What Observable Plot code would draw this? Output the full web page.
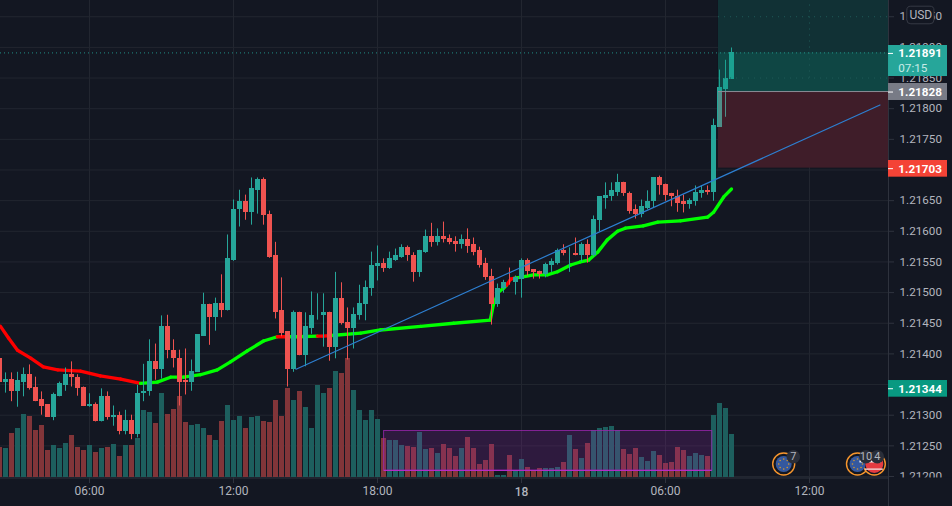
<!DOCTYPE html>
<html><head><meta charset="utf-8">
<style>html,body{margin:0;padding:0;background:#131722;overflow:hidden}</style>
<script src="https://cdn.jsdelivr.net/npm/d3@7"></script>
<script src="https://cdn.jsdelivr.net/npm/@observablehq/plot@0.6"></script>
</head><body><div id="chart"></div>
<script>
const open=[1.21393,1.21354,1.21359,1.21338,1.21354,1.21367,1.21346,1.21325,1.21317,1.21297,1.21331,1.21349,1.21367,1.21362,1.21346,1.21315,1.21318,1.21289,1.21330,1.21297,1.21300,1.21273,1.21292,1.21269,1.21336,1.21338,1.21387,1.21374,1.21444,1.21406,1.21393,1.21356,1.21354,1.21370,1.21429,1.21480,1.21459,1.21483,1.21470,1.21553,1.21635,1.21648,1.21630,1.21667,1.21684,1.21627,1.21560,1.21470,1.21436,1.21374,1.21468,1.21397,1.21442,1.21462,1.21462,1.21467,1.21411,1.21491,1.21452,1.21442,1.21463,1.21481,1.21507,1.21543,1.21547,1.21540,1.21553,1.21558,1.21573,1.21561,1.21532,1.21566,1.21591,1.21581,1.21591,1.21589,1.21584,1.21578,1.21587,1.21578,1.21568,1.21547,1.21527,1.21480,1.21506,1.21517,1.21516,1.21522,1.21553,1.21537,1.21534,1.21529,1.21545,1.21548,1.21569,1.21563,1.21564,1.21561,1.21578,1.21561,1.21618,1.21654,1.21657,1.21664,1.21679,1.21662,1.21635,1.21628,1.21638,1.21648,1.21687,1.21677,1.21661,1.21657,1.21648,1.21644,1.21649,1.21662,1.21667,1.21664,1.21770,1.21832,1.21848];
const close=[1.21354,1.21359,1.21338,1.21356,1.21367,1.21344,1.21323,1.21315,1.21297,1.21333,1.21351,1.21367,1.21361,1.21344,1.21315,1.21318,1.21289,1.21330,1.21297,1.21300,1.21273,1.21292,1.21269,1.21336,1.21339,1.21387,1.21374,1.21444,1.21405,1.21392,1.21354,1.21354,1.21372,1.21431,1.21480,1.21459,1.21483,1.21470,1.21555,1.21636,1.21648,1.21630,1.21669,1.21684,1.21625,1.21558,1.21468,1.21434,1.21374,1.21468,1.21397,1.21444,1.21463,1.21463,1.21467,1.21411,1.21491,1.21450,1.21442,1.21465,1.21483,1.21509,1.21545,1.21547,1.21540,1.21555,1.21560,1.21573,1.21560,1.21532,1.21568,1.21591,1.21581,1.21591,1.21587,1.21582,1.21578,1.21587,1.21576,1.21566,1.21545,1.21525,1.21480,1.21507,1.21517,1.21516,1.21524,1.21553,1.21535,1.21532,1.21529,1.21546,1.21550,1.21569,1.21563,1.21564,1.21561,1.21578,1.21561,1.21620,1.21656,1.21659,1.21666,1.21679,1.21661,1.21633,1.21628,1.21640,1.21649,1.21687,1.21675,1.21659,1.21656,1.21646,1.21644,1.21651,1.21664,1.21667,1.21664,1.21772,1.21834,1.21850,1.21891];
const high=[1.21393,1.21369,1.21369,1.21370,1.21377,1.21382,1.21362,1.21338,1.21317,1.21336,1.21354,1.21377,1.21387,1.21366,1.21346,1.21335,1.21320,1.21343,1.21338,1.21315,1.21305,1.21308,1.21300,1.21349,1.21383,1.21423,1.21416,1.21462,1.21463,1.21423,1.21406,1.21408,1.21390,1.21431,1.21499,1.21481,1.21491,1.21529,1.21594,1.21651,1.21667,1.21659,1.21687,1.21687,1.21687,1.21633,1.21582,1.21524,1.21436,1.21470,1.21468,1.21467,1.21501,1.21498,1.21498,1.21468,1.21533,1.21516,1.21475,1.21475,1.21512,1.21519,1.21566,1.21576,1.21555,1.21566,1.21571,1.21578,1.21576,1.21565,1.21569,1.21602,1.21613,1.21604,1.21615,1.21594,1.21591,1.21594,1.21604,1.21589,1.21574,1.21556,1.21538,1.21514,1.21520,1.21540,1.21527,1.21555,1.21555,1.21537,1.21535,1.21548,1.21555,1.21571,1.21578,1.21573,1.21589,1.21581,1.21586,1.21625,1.21656,1.21679,1.21679,1.21693,1.21680,1.21664,1.21643,1.21651,1.21666,1.21687,1.21690,1.21677,1.21662,1.21667,1.21659,1.21653,1.21674,1.21674,1.21674,1.21783,1.21863,1.21879,1.21899];
const low=[1.21354,1.21336,1.21322,1.21313,1.21330,1.21341,1.21322,1.21300,1.21297,1.21291,1.21330,1.21339,1.21346,1.21331,1.21315,1.21313,1.21289,1.21289,1.21292,1.21282,1.21268,1.21268,1.21260,1.21263,1.21322,1.21331,1.21357,1.21359,1.21392,1.21377,1.21315,1.21333,1.21339,1.21370,1.21429,1.21414,1.21437,1.21459,1.21470,1.21551,1.21607,1.21618,1.21610,1.21628,1.21610,1.21556,1.21457,1.21428,1.21346,1.21370,1.21397,1.21379,1.21432,1.21455,1.21411,1.21388,1.21392,1.21447,1.21390,1.21408,1.21455,1.21454,1.21494,1.21519,1.21533,1.21538,1.21551,1.21556,1.21551,1.21517,1.21525,1.21564,1.21574,1.21576,1.21581,1.21578,1.21566,1.21571,1.21564,1.21560,1.21540,1.21520,1.21447,1.21476,1.21499,1.21512,1.21496,1.21491,1.21527,1.21522,1.21522,1.21524,1.21533,1.21545,1.21560,1.21533,1.21560,1.21550,1.21548,1.21558,1.21599,1.21636,1.21649,1.21657,1.21657,1.21628,1.21620,1.21622,1.21635,1.21638,1.21659,1.21649,1.21640,1.21631,1.21630,1.21636,1.21641,1.21654,1.21659,1.21649,1.21770,1.21786,1.21848];
const volume=[30,29,44,49,63,61,47,52,27,32,29,34,42,30,27,32,25,29,30,33,21,32,32,39,67,65,54,84,63,68,81,55,52,53,49,42,37,56,72,57,61,49,60,61,56,55,77,61,89,77,86,70,49,92,84,89,106,104,119,87,67,57,67,58,39,37,37,32,31,30,45,28,29,24,33,29,21,29,40,29,13,17,33,2,2,22,6,18,10,6,9,9,9,10,15,42,28,19,34,47,49,50,51,47,28,23,29,20,16,26,22,14,15,30,27,21,24,22,21,62,74,69,43];
const maIndex=[0.17,1.5,3,5.2,7.3,9.7,13.5,16.8,20.2,23.5,26.3,28.5,30.7,33.5,36.3,38.5,41.3,44,46.3,47.9,49.7,53,54,55.3,60.2,63.5,70.2,75.7,81.8,82.3,83.2,84,84.5,85.2,86,86.8,89,91.3,93,95.2,96.8,98.2,99.7,101.3,103,104.3,107.3,109.7,113.5,118,119,120.7,122];
const maPrice=[1.21445,1.21426,1.21406,1.21393,1.21379,1.21374,1.21372,1.21364,1.21359,1.21352,1.21354,1.21362,1.21362,1.21366,1.21374,1.21387,1.21405,1.21421,1.21428,1.21428,1.21428,1.21429,1.21429,1.21430,1.21434,1.21439,1.21445,1.21450,1.21455,1.21480,1.21501,1.21507,1.21512,1.21522,1.21524,1.21525,1.21529,1.21529,1.21534,1.21545,1.21550,1.21553,1.21566,1.21586,1.21600,1.21605,1.21609,1.21615,1.21617,1.21623,1.21631,1.21656,1.21669];
const maDown=[0,1,2,3,4,5,6,7,8,18,21,22,32,33];
const trendIndex=[49.42,146.75];
const trendPrice=[1.21375,1.21806];
const priceTicks=[1.212,1.2125,1.213,1.2135,1.214,1.2145,1.215,1.2155,1.216,1.2165,1.217,1.2175,1.218,1.2185,1.219,1.2195];
const timeTicks=[15,39,63,87,111,135];
const timeLabels=["06:00","12:00","18:00","","06:00","12:00"];
const dayLabel=[{i:87,t:"18"}];
const lastPrice=1.21891, entryPrice=1.21828, stopPrice=1.21703, markPrice=1.21344;
const euEvents=[{i:130.7,n:"7",b:132.3},{i:143,n:"10",b:144.4}];
const usEvents=[{i:145.8,n:"4",b:146.3}];
const eventPrice=1.212204, badgePrice=1.212323;

const BG="#131722",GRID="#222630",UP="#26a69a",DOWN="#ef5350",AXIS="#b2b5be",LINE="#2f333e";
const bars=open.map((o,i)=>({i,o,c:close[i],h:high[i],l:low[i],v:volume[i],up:close[i]>=o}));
const TOP=1.219765,ZTOP=1.2198,AXX=148.17,END=158,VOLBASE=1.211976,VOLK=1/61300;
const ma=maIndex.slice(0,-1).map((x,k)=>({x1:x,y1:maPrice[k],x2:maIndex[k+1],y2:maPrice[k+1],col:maDown.includes(k)?"#ff0000":"#00ff00"}));
const tags=[
 {p:entryPrice,t:"1.21828",col:"#787b86",y1:1.218142,y2:1.218419},
 {p:stopPrice,t:"1.21703",col:"#f44336",y1:1.216891,y2:1.217163},
 {p:markPrice,t:"1.21344",col:"#089981",y1:1.213302,y2:1.213574},
 {p:lastPrice,t:"1.21891",col:UP,y1:1.218533,y2:1.219039}];
const fmt=d3.format(".5f");
const stars=d3.range(8).map(k=>[Math.cos(k*Math.PI/4)*5,Math.sin(k*Math.PI/4)*5]);
const FS=11.7;

const chart=Plot.plot({
 width:952,height:506,marginTop:0,marginLeft:0,marginRight:64,marginBottom:28,
 x:{domain:[1/6,148+1/6],range:[0,888],axis:null},
 y:{domain:[1.212,TOP],range:[476,0],axis:null},
 color:{type:"identity"},
 style:{background:BG,fontFamily:"Roboto",fontSize:"12px",color:AXIS,display:"block"},
 marks:[
  Plot.gridX(timeTicks,{stroke:GRID,strokeOpacity:1}),
  Plot.gridY(priceTicks,{stroke:GRID,strokeOpacity:1}),
  Plot.rect([0],{x1:119.83,x2:AXX,y1:stopPrice,y2:ZTOP,fill:BG}),
  Plot.rect(bars,{x1:d=>d.i-2.5/6,x2:d=>d.i+2.5/6,y1:VOLBASE,y2:d=>VOLBASE+d.v*VOLK,fill:d=>d.up?"#1d5f5e":"#813539",shapeRendering:"crispEdges"}),
  Plot.link(ma,{x1:"x1",y1:"y1",x2:"x2",y2:"y2",stroke:"col",strokeWidth:3.3,strokeLinecap:"round"}),
  Plot.ruleX(bars,{x:"i",y1:"l",y2:"h",stroke:d=>d.up?UP:DOWN,strokeWidth:1}),
  Plot.rect(bars,{x1:d=>d.i-2.5/6,x2:d=>d.i+2.5/6,y1:"o",y2:"c",fill:d=>d.up?UP:DOWN,shapeRendering:"crispEdges"}),
  Plot.rect([0],{x1:119.83,x2:AXX,y1:entryPrice,y2:ZTOP,fill:"#089981",fillOpacity:0.2}),
  Plot.rect([0],{x1:119.83,x2:AXX,y1:entryPrice,y2:lastPrice,fill:"#089981",fillOpacity:0.2}),
  Plot.rect([0],{x1:119.83,x2:AXX,y1:stopPrice,y2:entryPrice,fill:"#f23645",fillOpacity:0.2}),
  Plot.ruleY([1.2195,1.2185],{x1:119.83,x2:AXX,stroke:"#1f5a58",strokeDasharray:"1,5"}),
  Plot.ruleX([135],{y1:1.2185,y2:TOP,stroke:"#1f5a58",strokeDasharray:"1,5"}),
  Plot.ruleY([entryPrice],{x1:119.83,x2:AXX,stroke:"#8a8d96"}),
  Plot.ruleY([lastPrice],{x1:0.17,x2:AXX,stroke:UP,strokeDasharray:"1,3",strokeOpacity:0.85}),
  Plot.rect([0],{x1:64.1,x2:118.8,y1:1.212098,y2:1.212742,fill:"#9c27b0",fillOpacity:0.2,stroke:"#9c27b0",strokeOpacity:0.8}),
  Plot.ruleY([1.212098],{x1:64.1,x2:118.8,stroke:"#b62bc9"}),
  Plot.line(trendIndex.map((x,k)=>({x,y:trendPrice[k]})),{x:"x",y:"y",stroke:"#2d7fd1",strokeWidth:1.2}),
  Plot.dot(euEvents.concat(usEvents),{x:"i",y:()=>eventPrice,r:11,fill:BG,stroke:"#f7962d",strokeWidth:1.4}),
  Plot.dot(euEvents,{x:"i",y:()=>eventPrice,r:8,fill:"#34589f"}),
  ...stars.map(([dx,dy])=>Plot.dot(euEvents,{x:"i",y:()=>eventPrice,r:0.8,fill:"#d99a2b",dx,dy})),
  Plot.dot(usEvents,{x:"i",y:()=>eventPrice,r:9,fill:"#e53b41"}),
  Plot.ruleY([1.212245],{x1:143.4,x2:147,stroke:"#f4f4f4",strokeWidth:2}),
  Plot.ruleY([1.21212],{x1:144.3,x2:147.3,stroke:"#f0c8c8",strokeWidth:1.5}),
  Plot.dot(euEvents.concat(usEvents),{x:"b",y:()=>badgePrice,r:6.8,fill:"#2a2e39"}),
  Plot.text(euEvents.concat(usEvents),{x:"b",y:()=>badgePrice,text:"n",fill:AXIS,fontSize:11}),
  Plot.axisX({ticks:timeTicks,tickFormat:i=>timeLabels[timeTicks.indexOf(i)],anchor:"bottom",tickSize:5,tickPadding:3,stroke:LINE,fill:AXIS,fontSize:12,label:null}),
  Plot.text(dayLabel,{x:"i",y:()=>1.21175,text:"t",fill:AXIS,fontWeight:500,fontSize:12}),
  Plot.ruleY([VOLBASE],{x1:0.17,x2:AXX,stroke:LINE}),
  Plot.axisY({ticks:priceTicks,tickFormat:fmt,anchor:"right",tickSize:5,tickPadding:6,stroke:LINE,fill:AXIS,fontSize:FS,label:null}),
  Plot.rect([0],{x1:AXX+0.1,x2:END+1,y1:VOLBASE,y2:1.2114,fill:BG}),
  Plot.ruleX([AXX],{y1:1.2114,y2:TOP,stroke:LINE}),
  Plot.rect(tags,{x1:AXX,x2:END,y1:"y1",y2:"y2",fill:"col",dy:0.5}),
  Plot.ruleY(tags,{y:"p",x1:AXX,x2:AXX+0.83,stroke:"#ffffff",dy:0.5}),
  Plot.text(tags,{x:149.8,y:"p",text:"t",fill:"#ffffff",textAnchor:"start",fontWeight:"bold",fontSize:FS,dy:0.7}),
  Plot.text([0],{x:149.8,y:1.21867,text:()=>"07:15",fill:"#c8ebe7",textAnchor:"start",fontSize:FS,dy:0.7}),
  Plot.rect([0],{x1:151.3,x2:155.83,y1:1.219377,y2:1.219664,fill:BG,stroke:"#363a45",rx:4}),
  Plot.text([0],{x:153.55,y:1.21952,text:()=>"USD",fill:AXIS,fontSize:12})
 ]
});
document.getElementById("chart").append(chart);
</script></body></html>
